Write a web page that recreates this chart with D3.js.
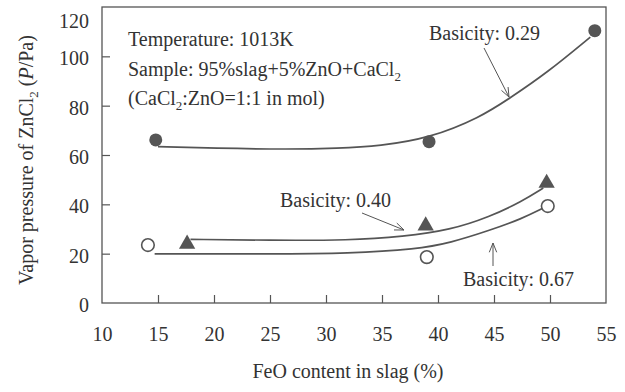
<!DOCTYPE html>
<html><head><meta charset="utf-8">
<script src="https://cdn.jsdelivr.net/npm/d3@7"></script>
<style>body{margin:0;background:#fff}svg{display:block}text{font-family:"Liberation Serif","Times New Roman",serif;fill:#333}</style>
</head><body><svg id="c" width="625" height="392"></svg>
<script>
// data
const xTicks = [10,15,20,25,30,35,40,45,50,55];
const yTicks = [0,20,40,60,80,100,120];
const b029X = [14.8, 39.2, 54.0];
const b029Y = [66.1, 65.4, 110.4];
const b040X = [17.6, 38.9, 49.7];
const b040Y = [23.5, 30.9, 48.2];
const b067X = [14.1, 39.0, 49.8];
const b067Y = [23.5, 18.6, 39.3];
// fitted curves
const fit029X = [15, 20, 26.8, 31, 34.8, 39.3, 43.75, 46.4, 49.7, 53.6];
const fit029Y = [63.4, 62.7, 62.3, 62.7, 63.6, 66.9, 75.2, 83.0, 93.2, 107.8];
const fit040X = [17.9, 25, 32.1, 36.9, 41.1, 44.6, 47.5, 49.4];
const fit040Y = [25.8, 25.4, 25.4, 26.9, 29.6, 34.9, 41.2, 46.6];
const fit067X = [14.7, 25, 32.1, 38.1, 41.1, 44.6, 47.5, 49.4];
const fit067Y = [19.9, 19.9, 20.1, 21.8, 24.4, 29.4, 34.2, 38.5];

const svg = d3.select("#c");
const L=102, R=606, T=7, B=303;
const x = d3.scaleLinear().domain([10,55]).range([L,R]);
const y = d3.scaleLinear().domain([0,120]).range([B,T]);
const ink = "#555";
const fs = 20;

// frame
svg.append("rect").attr("x",L).attr("y",T).attr("width",R-L).attr("height",B-T)
  .attr("fill","none").attr("stroke",ink).attr("stroke-width",1.3);

// y axis
const yAx = svg.append("g").attr("transform",`translate(${L},0)`)
  .call(d3.axisLeft(y).tickValues(yTicks).tickSize(-8).tickPadding(13));
yAx.select(".domain").remove();
yAx.selectAll("line").attr("stroke",ink).attr("stroke-width",1.2);
yAx.selectAll("text").attr("font-size",fs).attr("fill","#333")
  .attr("dy", d => d===120 ? "1.0em" : "0.42em");
yAx.selectAll(".tick").filter(d=>d===0||d===120).select("line").remove();

// x axis
const xAx = svg.append("g").attr("transform",`translate(0,${B})`)
  .call(d3.axisBottom(x).tickValues(xTicks).tickSize(-8).tickPadding(24));
xAx.select(".domain").remove();
xAx.selectAll("line").attr("stroke",ink).attr("stroke-width",1.2);
xAx.selectAll("text").attr("font-size",fs).attr("fill","#333");
xAx.selectAll(".tick").filter(d=>d===10||d===55).select("line").remove();

// axis titles
svg.append("text").attr("x",348).attr("y",378).attr("text-anchor","middle")
  .attr("font-size",fs).text("FeO content in slag (%)");
const yt = svg.append("text").attr("transform","translate(33,160) rotate(-90)")
  .attr("text-anchor","middle").attr("font-size",fs);
yt.append("tspan").text("Vapor pressure of ZnCl");
yt.append("tspan").attr("font-size",13).attr("dy",5).text("2");
yt.append("tspan").attr("dy",-5).text(" (");
yt.append("tspan").attr("font-style","italic").text("P");
yt.append("tspan").text("/Pa)");

// curves
const line = d3.line().x(d=>x(d[0])).y(d=>y(d[1])).curve(d3.curveBasis);
[[fit029X,fit029Y],[fit040X,fit040Y],[fit067X,fit067Y]].forEach(([xs,ys])=>{
  svg.append("path").attr("d",line(xs.map((v,i)=>[v,ys[i]])))
    .attr("fill","none").attr("stroke",ink).attr("stroke-width",1.7);
});

// markers
b029X.forEach((v,i)=>svg.append("circle").attr("cx",x(v)).attr("cy",y(b029Y[i])).attr("r",6.5).attr("fill",ink));
b067X.forEach((v,i)=>svg.append("circle").attr("cx",x(v)).attr("cy",y(b067Y[i])).attr("r",6.3)
  .attr("fill","#fff").attr("stroke",ink).attr("stroke-width",1.6));
const tri = d3.symbol().type(d3.symbolTriangle).size(115);
b040X.forEach((v,i)=>svg.append("path").attr("d",tri())
  .attr("transform",`translate(${x(v)},${y(b040Y[i])-1})`).attr("fill",ink));

// arrows
function arrow(x1,y1,x2,y2){
  svg.append("line").attr("x1",x1).attr("y1",y1).attr("x2",x2).attr("y2",y2)
    .attr("stroke",ink).attr("stroke-width",1);
  const a=Math.atan2(y2-y1,x2-x1), h=10, w=0.38;
  const p=[[x2-h*Math.cos(a-w),y2-h*Math.sin(a-w)],[x2,y2],[x2-h*Math.cos(a+w),y2-h*Math.sin(a+w)]];
  svg.append("path").attr("d",d3.line()(p)).attr("fill","none").attr("stroke",ink).attr("stroke-width",1);
}
arrow(484,48,509,97);
arrow(362,213,404,230);
arrow(493,266,493,243);

// annotations
svg.append("text").attr("x",429).attr("y",40).attr("font-size",fs).text("Basicity: 0.29");
svg.append("text").attr("x",280).attr("y",207).attr("font-size",fs).text("Basicity: 0.40");
svg.append("text").attr("x",463).attr("y",286).attr("font-size",fs).text("Basicity: 0.67");

svg.append("text").attr("x",128).attr("y",46).attr("font-size",fs).text("Temperature: 1013K");
const s2 = svg.append("text").attr("x",128).attr("y",76).attr("font-size",fs);
s2.append("tspan").text("Sample: 95%slag+5%ZnO+CaCl");
s2.append("tspan").attr("font-size",13).attr("dy",5).text("2");
const s3 = svg.append("text").attr("x",128).attr("y",105).attr("font-size",fs);
s3.append("tspan").text("(CaCl");
s3.append("tspan").attr("font-size",13).attr("dy",5).text("2");
s3.append("tspan").attr("dy",-5).text(":ZnO=1:1 in mol)");
</script></body></html>
